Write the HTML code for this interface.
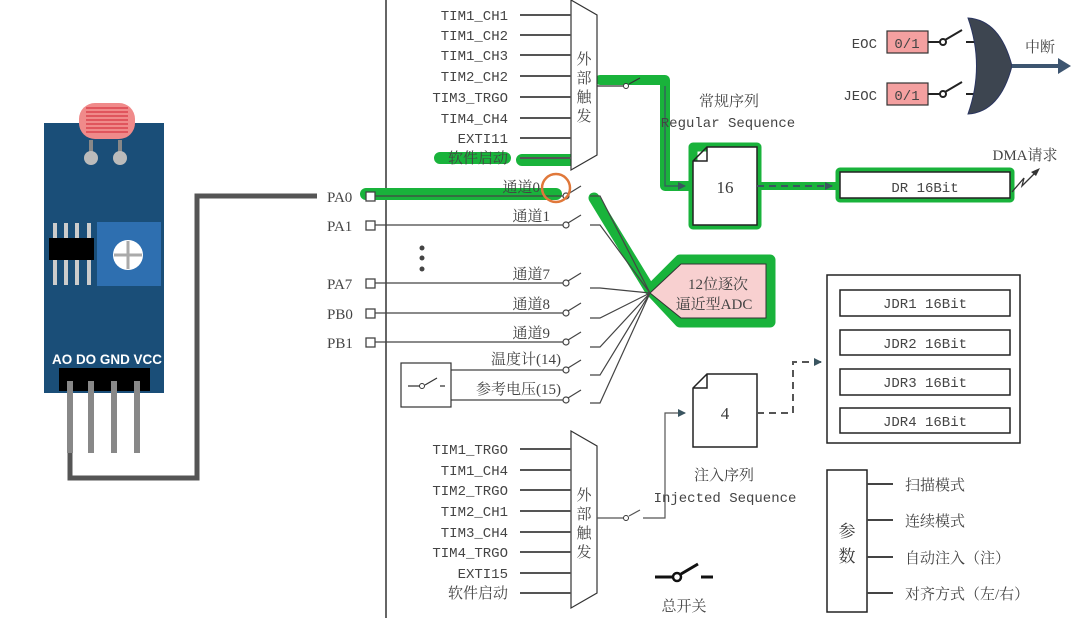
<!DOCTYPE html>
<html><head><meta charset="utf-8"><style>
html,body{margin:0;padding:0;background:#fff;}
svg{display:block;}
text{font-family:"Liberation Serif","Noto Serif CJK SC",serif;fill:#3a3a3a;}
.m, .m text{font-family:"Liberation Mono","Noto Sans CJK SC",monospace;font-size:14px;fill:#444;}
.c, .c text{font-size:15px;fill:#444;}
</style></head><body>
<svg width="1082" height="618" viewBox="0 0 1082 618" xmlns="http://www.w3.org/2000/svg">
<defs>
<marker id="ar" markerWidth="8" markerHeight="8" refX="7" refY="4" orient="auto" markerUnits="userSpaceOnUse"><path d="M0,0 L8,4 L0,8z" fill="#3a5560"/></marker>
</defs>
<!-- sensor board -->
<rect x="44" y="123" width="120" height="270" fill="#1a4e78"/>
<rect x="79" y="103" width="56" height="36" rx="16" fill="#f08a8a"/>
<path d="M86,108 H128 M86,112 H128 M86,116 H128 M86,120 H128 M86,124 H128 M86,128 H128 M86,132 H128" stroke="#d02030" stroke-width="1"/>
<rect x="89" y="140" width="4" height="16" fill="#888"/><rect x="118" y="140" width="4" height="16" fill="#888"/>
<circle cx="91" cy="158" r="7" fill="#bbb"/><circle cx="120" cy="158" r="7" fill="#bbb"/>
<g fill="#ccc"><rect x="53" y="223" width="4" height="15"/><rect x="64" y="223" width="4" height="15"/><rect x="75" y="223" width="4" height="15"/><rect x="87" y="223" width="4" height="15"/>
<rect x="53" y="260" width="4" height="25"/><rect x="64" y="260" width="4" height="25"/><rect x="75" y="260" width="4" height="25"/><rect x="87" y="260" width="4" height="25"/></g>
<rect x="49" y="238" width="45" height="22" fill="#000"/>
<rect x="97" y="222" width="64" height="64" fill="#2e6fb0"/>
<circle cx="128" cy="255" r="15" fill="#fff"/>
<path d="M128,241 V269 M114,255 H142" stroke="#aaa" stroke-width="3"/>
<text x="52" y="364" textLength="110" lengthAdjust="spacingAndGlyphs" style="font-family:'Liberation Sans',sans-serif;font-weight:bold;font-size:14px;fill:#fff">AO DO GND VCC</text>
<rect x="59" y="368" width="91" height="23" fill="#000"/>
<g fill="#888"><rect x="67" y="381" width="6" height="72"/><rect x="88" y="381" width="6" height="72"/><rect x="111" y="381" width="6" height="72"/><rect x="134" y="381" width="6" height="72"/></g>
<path d="M70,453 V478 H197 V196 H317" fill="none" stroke="#555" stroke-width="5"/>
<!-- main vertical -->
<line x1="386" y1="0" x2="386" y2="618" stroke="#333" stroke-width="1.5"/>
<!-- green highlights -->
<g stroke="#19b33b" fill="none" stroke-linecap="round" stroke-linejoin="round">
<path d="M366,194 H556" stroke-width="12"/>
<path d="M594,198 L650,290 L680,260 L770,260 L770,322 L680,322 L650,290" stroke-width="11"/>
<path d="M440,158 H505 M522,160 H571" stroke-width="12"/>
<path d="M600,80 H665 V186 H690" stroke-width="10"/>
<path d="M693,147 H757 V225 H693Z" stroke-width="9"/>
<path d="M760,186 H838" stroke-width="8"/>
<path d="M840,172 H1010 V198 H840Z" stroke-width="9"/>
</g>
<polygon points="650,293 681,264 766,264 766,318 681,318" fill="#f8d0d0" stroke="#333" stroke-width="1"/>
<text x="718" y="289" text-anchor="middle" class="c">12位逐次</text>
<text x="714" y="309" text-anchor="middle" class="c">逼近型ADC</text>
<!-- pins -->
<g class="c"><text x="327" y="202">PA0</text><text x="327" y="231">PA1</text><text x="327" y="289">PA7</text><text x="327" y="319">PB0</text><text x="327" y="348">PB1</text></g>
<g stroke="#444" fill="#fff" stroke-width="1.3">
<rect x="366" y="192" width="9" height="9"/><rect x="366" y="221" width="9" height="9"/><rect x="366" y="279" width="9" height="9"/><rect x="366" y="309" width="9" height="9"/><rect x="366" y="338" width="9" height="9"/>
</g>
<g stroke="#444" fill="none" stroke-width="1.2">
<path d="M375,196 H563 M375,225 H563 M375,283 H563 M375,313 H563 M375,342 H563 M451,370 H563 M451,400 H563"/>
<g fill="#fff">
<circle cx="566" cy="196" r="3"/><circle cx="566" cy="225" r="3"/><circle cx="566" cy="283" r="3"/><circle cx="566" cy="313" r="3"/><circle cx="566" cy="342" r="3"/><circle cx="566" cy="370" r="3"/><circle cx="566" cy="400" r="3"/></g>
<path d="M568,194 L581,186 M568,223 L581,215 M568,281 L581,273 M568,311 L581,303 M568,340 L581,332 M568,368 L581,360 M568,398 L581,390"/>
<path d="M590,196 H600 L650,293 M590,225 H600 L650,293 M590,288 H600 L650,293 M590,318 H600 L650,293 M590,347 H600 L650,293 M590,375 H600 L650,293 M590,403 H600 L650,293"/>
</g>
<g class="c" text-anchor="end">
<text x="540" y="192">通道0</text><text x="550" y="221">通道1</text><text x="550" y="279">通道7</text><text x="550" y="309">通道8</text><text x="550" y="338">通道9</text><text x="561" y="364">温度计(14)</text><text x="561" y="394">参考电压(15)</text>
</g>
<circle cx="556" cy="188" r="14" fill="none" stroke="#e0783a" stroke-width="2.5"/>
<g fill="#444"><circle cx="422" cy="248" r="2.5"/><circle cx="422" cy="258" r="2.5"/><circle cx="422" cy="269" r="2.5"/></g>
<rect x="401" y="363" width="50" height="44" fill="#fff" stroke="#333" stroke-width="1.2"/>
<path d="M408,386 H420 M425,385 L437,378 M440,386 H445" stroke="#333" stroke-width="1.2"/><circle cx="422" cy="386" r="2.5" fill="#fff" stroke="#333"/>
<!-- upper mux -->
<polygon points="571,0 597,15 597,155 571,170" fill="#fff" stroke="#333" stroke-width="1.2"/>
<g class="c" text-anchor="middle"><text x="584" y="64">外</text><text x="584" y="83">部</text><text x="584" y="102">触</text><text x="584" y="121">发</text></g>
<g class="m" text-anchor="end"><text x="508" y="20">TIM1_CH1</text><text x="508" y="40">TIM1_CH2</text><text x="508" y="60">TIM1_CH3</text><text x="508" y="81">TIM2_CH2</text><text x="508" y="102">TIM3_TRGO</text><text x="508" y="123">TIM4_CH4</text><text x="508" y="143">EXTI11</text></g>
<text x="508" y="163" text-anchor="end" class="c">软件启动</text>
<path d="M520,15 H571 M520,35 H571 M520,55 H571 M520,76 H571 M520,97 H571 M520,118 H571 M520,138 H571 M520,158 H571" stroke="#555" stroke-width="2"/>
<path d="M597,86 H623 M629,84 L640,78" stroke="#333" stroke-width="1.2"/><circle cx="626" cy="86" r="2.5" fill="#fff" stroke="#333"/>
<path d="M665,86 V186 H685" stroke="#3a5560" stroke-width="1.2" fill="none" marker-end="url(#ar)"/>
<text x="729" y="106" text-anchor="middle" class="c">常规序列</text>
<text x="728" y="127" text-anchor="middle" class="m">Regular Sequence</text>
<path d="M707,147 H757 V225 H693 V161Z M693,161 H707 V147" fill="#fff" stroke="#222" stroke-width="1.5"/>
<text x="725" y="193" text-anchor="middle" style="font-size:17px">16</text>
<path d="M757,186 H832" stroke="#3a5560" stroke-width="2" stroke-dasharray="7,5" marker-end="url(#ar)"/>
<rect x="840" y="172" width="170" height="26" fill="#fff" stroke="#222" stroke-width="1.5"/>
<text x="925" y="192" text-anchor="middle" class="m">DR 16Bit</text>
<text x="1025" y="160" text-anchor="middle" class="c">DMA请求</text>
<path d="M1012,192 L1024,178 L1022,186 L1036,172" stroke="#333" fill="none" stroke-width="1.3"/><path d="M1040,168 L1031,172 L1036,176z" fill="#333"/>
<!-- EOC -->
<text x="877" y="48" text-anchor="end" class="m">EOC</text>
<text x="877" y="100" text-anchor="end" class="m">JEOC</text>
<rect x="887" y="31" width="41" height="22" fill="#f4a0a0" stroke="#333" stroke-width="1.2"/>
<rect x="887" y="83" width="41" height="22" fill="#f4a0a0" stroke="#333" stroke-width="1.2"/>
<text x="907" y="48" text-anchor="middle" class="m">0/1</text><text x="907" y="100" text-anchor="middle" class="m">0/1</text>
<g stroke="#222" stroke-width="2" fill="none"><path d="M928,42 H940 M945,40 L962,30 M966,42 H975 M928,94 H940 M945,92 L962,82 M966,94 H975"/></g>
<circle cx="943" cy="42" r="3" fill="#fff" stroke="#222" stroke-width="2"/><circle cx="943" cy="94" r="3" fill="#fff" stroke="#222" stroke-width="2"/>
<path d="M968,18 Q1000,20 1012,66 Q1000,112 968,114 Q985,66 968,18Z" fill="#3d4550" stroke="#2a3560"/>
<path d="M1012,66 H1062" stroke="#3d5570" stroke-width="4"/><path d="M1058,58 L1071,66 L1058,74z" fill="#3d5570"/>
<text x="1040" y="52" text-anchor="middle" class="c">中断</text>
<!-- lower mux -->
<polygon points="571,431 597,446 597,593 571,608" fill="#fff" stroke="#333" stroke-width="1.2"/>
<g class="c" text-anchor="middle"><text x="584" y="500">外</text><text x="584" y="519">部</text><text x="584" y="538">触</text><text x="584" y="557">发</text></g>
<g class="m" text-anchor="end"><text x="508" y="454">TIM1_TRGO</text><text x="508" y="475">TIM1_CH4</text><text x="508" y="495">TIM2_TRGO</text><text x="508" y="516">TIM2_CH1</text><text x="508" y="537">TIM3_CH4</text><text x="508" y="557">TIM4_TRGO</text><text x="508" y="578">EXTI15</text></g>
<text x="508" y="598" text-anchor="end" class="c">软件启动</text>
<path d="M520,449 H571 M520,470 H571 M520,490 H571 M520,511 H571 M520,532 H571 M520,552 H571 M520,573 H571 M520,593 H571" stroke="#555" stroke-width="2"/>
<path d="M597,518 H623 M629,516 L640,510 M643,518 H665 V413 H685" stroke="#555" stroke-width="1.2" fill="none" marker-end="url(#ar)"/><circle cx="626" cy="518" r="2.5" fill="#fff" stroke="#333"/>
<path d="M707,374 H757 V447 H693 V388Z M693,388 H707 V374" fill="#fff" stroke="#222" stroke-width="1.5"/>
<text x="725" y="419" text-anchor="middle" style="font-size:17px">4</text>
<text x="724" y="480" text-anchor="middle" class="c">注入序列</text>
<text x="725" y="502" text-anchor="middle" class="m">Injected Sequence</text>
<path d="M757,413 H793 V362 H821" stroke="#555" stroke-width="2" stroke-dasharray="7,5" fill="none" marker-end="url(#ar)"/>
<rect x="827" y="275" width="193" height="168" fill="#fff" stroke="#222" stroke-width="1.5"/>
<g fill="#fff" stroke="#222" stroke-width="1.5"><rect x="840" y="290" width="170" height="26"/><rect x="840" y="330" width="170" height="25"/><rect x="840" y="369" width="170" height="26"/><rect x="840" y="408" width="170" height="25"/></g>
<g class="m" text-anchor="middle"><text x="925" y="308">JDR1 16Bit</text><text x="925" y="348">JDR2 16Bit</text><text x="925" y="387">JDR3 16Bit</text><text x="925" y="426">JDR4 16Bit</text></g>
<path d="M655,577 H673 M681,574 L698,564 M701,577 H713" stroke="#111" stroke-width="3"/><circle cx="677" cy="577" r="4" fill="#fff" stroke="#111" stroke-width="2.5"/>
<text x="684" y="611" text-anchor="middle" class="c">总开关</text>
<rect x="827" y="470" width="40" height="142" fill="#fff" stroke="#222" stroke-width="1.5"/>
<text x="847" y="537" text-anchor="middle" style="font-size:17px">参</text><text x="847" y="562" text-anchor="middle" style="font-size:17px">数</text>
<path d="M867,484 H893 M867,520 H893 M867,557 H893 M867,593 H893" stroke="#444" stroke-width="2"/>
<g class="c"><text x="905" y="490">扫描模式</text><text x="905" y="526">连续模式</text><text x="905" y="563">自动注入（注）</text><text x="905" y="599">对齐方式（左/右）</text></g>
</svg>
</body></html>
